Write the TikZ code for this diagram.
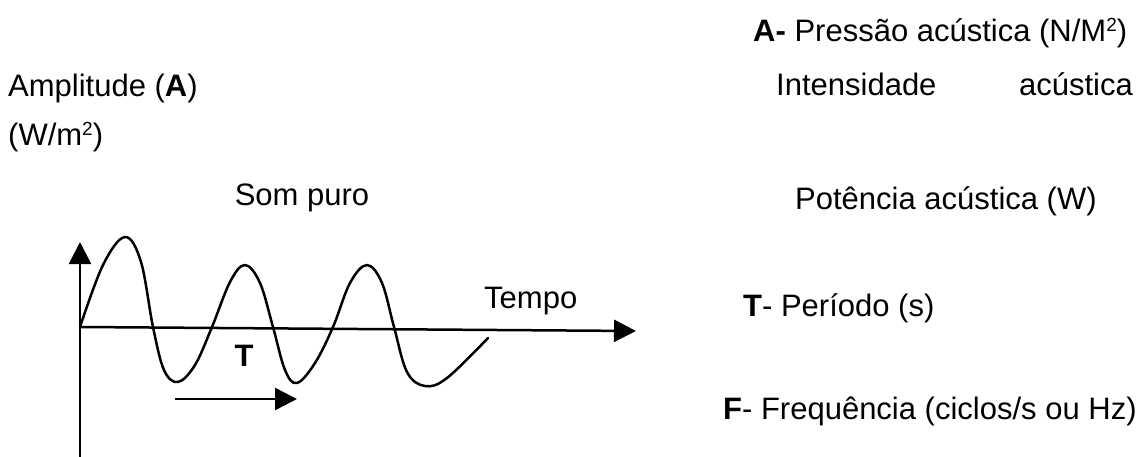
\documentclass[tikz,border=0pt]{standalone}
\usepackage{fontspec}
\setmainfont{Liberation Sans}
\usetikzlibrary{arrows.meta}
\newcommand{\sqsup}{\raisebox{10pt}{\fontsize{19}{19}\selectfont 2}}
\tikzset{
  lbl/.style={inner sep=0pt, font=\fontsize{31}{37}\selectfont},
  axis/.style={line width=2.5pt, -{Triangle[length=22pt,width=22pt]}},
  wave/.style={line width=2.5pt, line join=round, line cap=round}
}
\begin{document}
\begin{tikzpicture}[x=1pt,y=-1pt]
\useasboundingbox (0,0) rectangle (1148,457);
% axes
\coordinate (o) at (80,327);
\coordinate (ytip) at (80,242);
\coordinate (ybot) at (80,457);
\coordinate (xtip) at (636,331);
\draw[axis] (ybot) -- (ytip);
\draw[axis] (o) -- (xtip);
% wave
\draw[wave] plot[smooth, tension=0.6] coordinates {
 (80,327) (103,265) (125,237) (141,262) (153,327) (164,370) (178,382) (195,365) (212,327)
 (230,282) (245,265) (260,283) (273,327) (285,370) (297,383) (315,363) (333,327)
 (350,283) (367,265) (382,283) (394,327) (407,372) (425,386) (447,378) (488,338)};
% period arrow
\coordinate (ps) at (175,399);
\coordinate (pe) at (297,399);
\draw[axis] (ps) -- (pe);
\node[lbl, font=\fontsize{31}{37}\selectfont\bfseries] (T) at (244,356) {T};
\node[lbl, anchor=base west] (tempo) at (484,308) {Tempo};
\node[lbl, anchor=base] (som) at (302,206) {Som puro};
% left texts
\node[lbl, anchor=base west] (amp) at (8,97) {Amplitude (\textbf{A})};
\node[lbl, anchor=base west] (wm) at (8,146) {(W/m\sqsup)};
% right texts
\node[lbl, anchor=base west] (pa) at (753,42) {\textbf{A-} Pressão acústica (N/M\sqsup)};
\node[lbl, anchor=base west] (int) at (776,96) {Intensidade};
\node[lbl, anchor=base east] (ac) at (1133,96) {acústica};
\node[lbl, anchor=base west] (pot) at (795,210) {Potência acústica (W)};
\node[lbl, anchor=base west] (per) at (743,316) {\textbf{T}- Período (s)};
\node[lbl, anchor=base west] (fr) at (723,419) {\textbf{F}- Frequência (ciclos/s ou Hz)};
\end{tikzpicture}
\end{document}
